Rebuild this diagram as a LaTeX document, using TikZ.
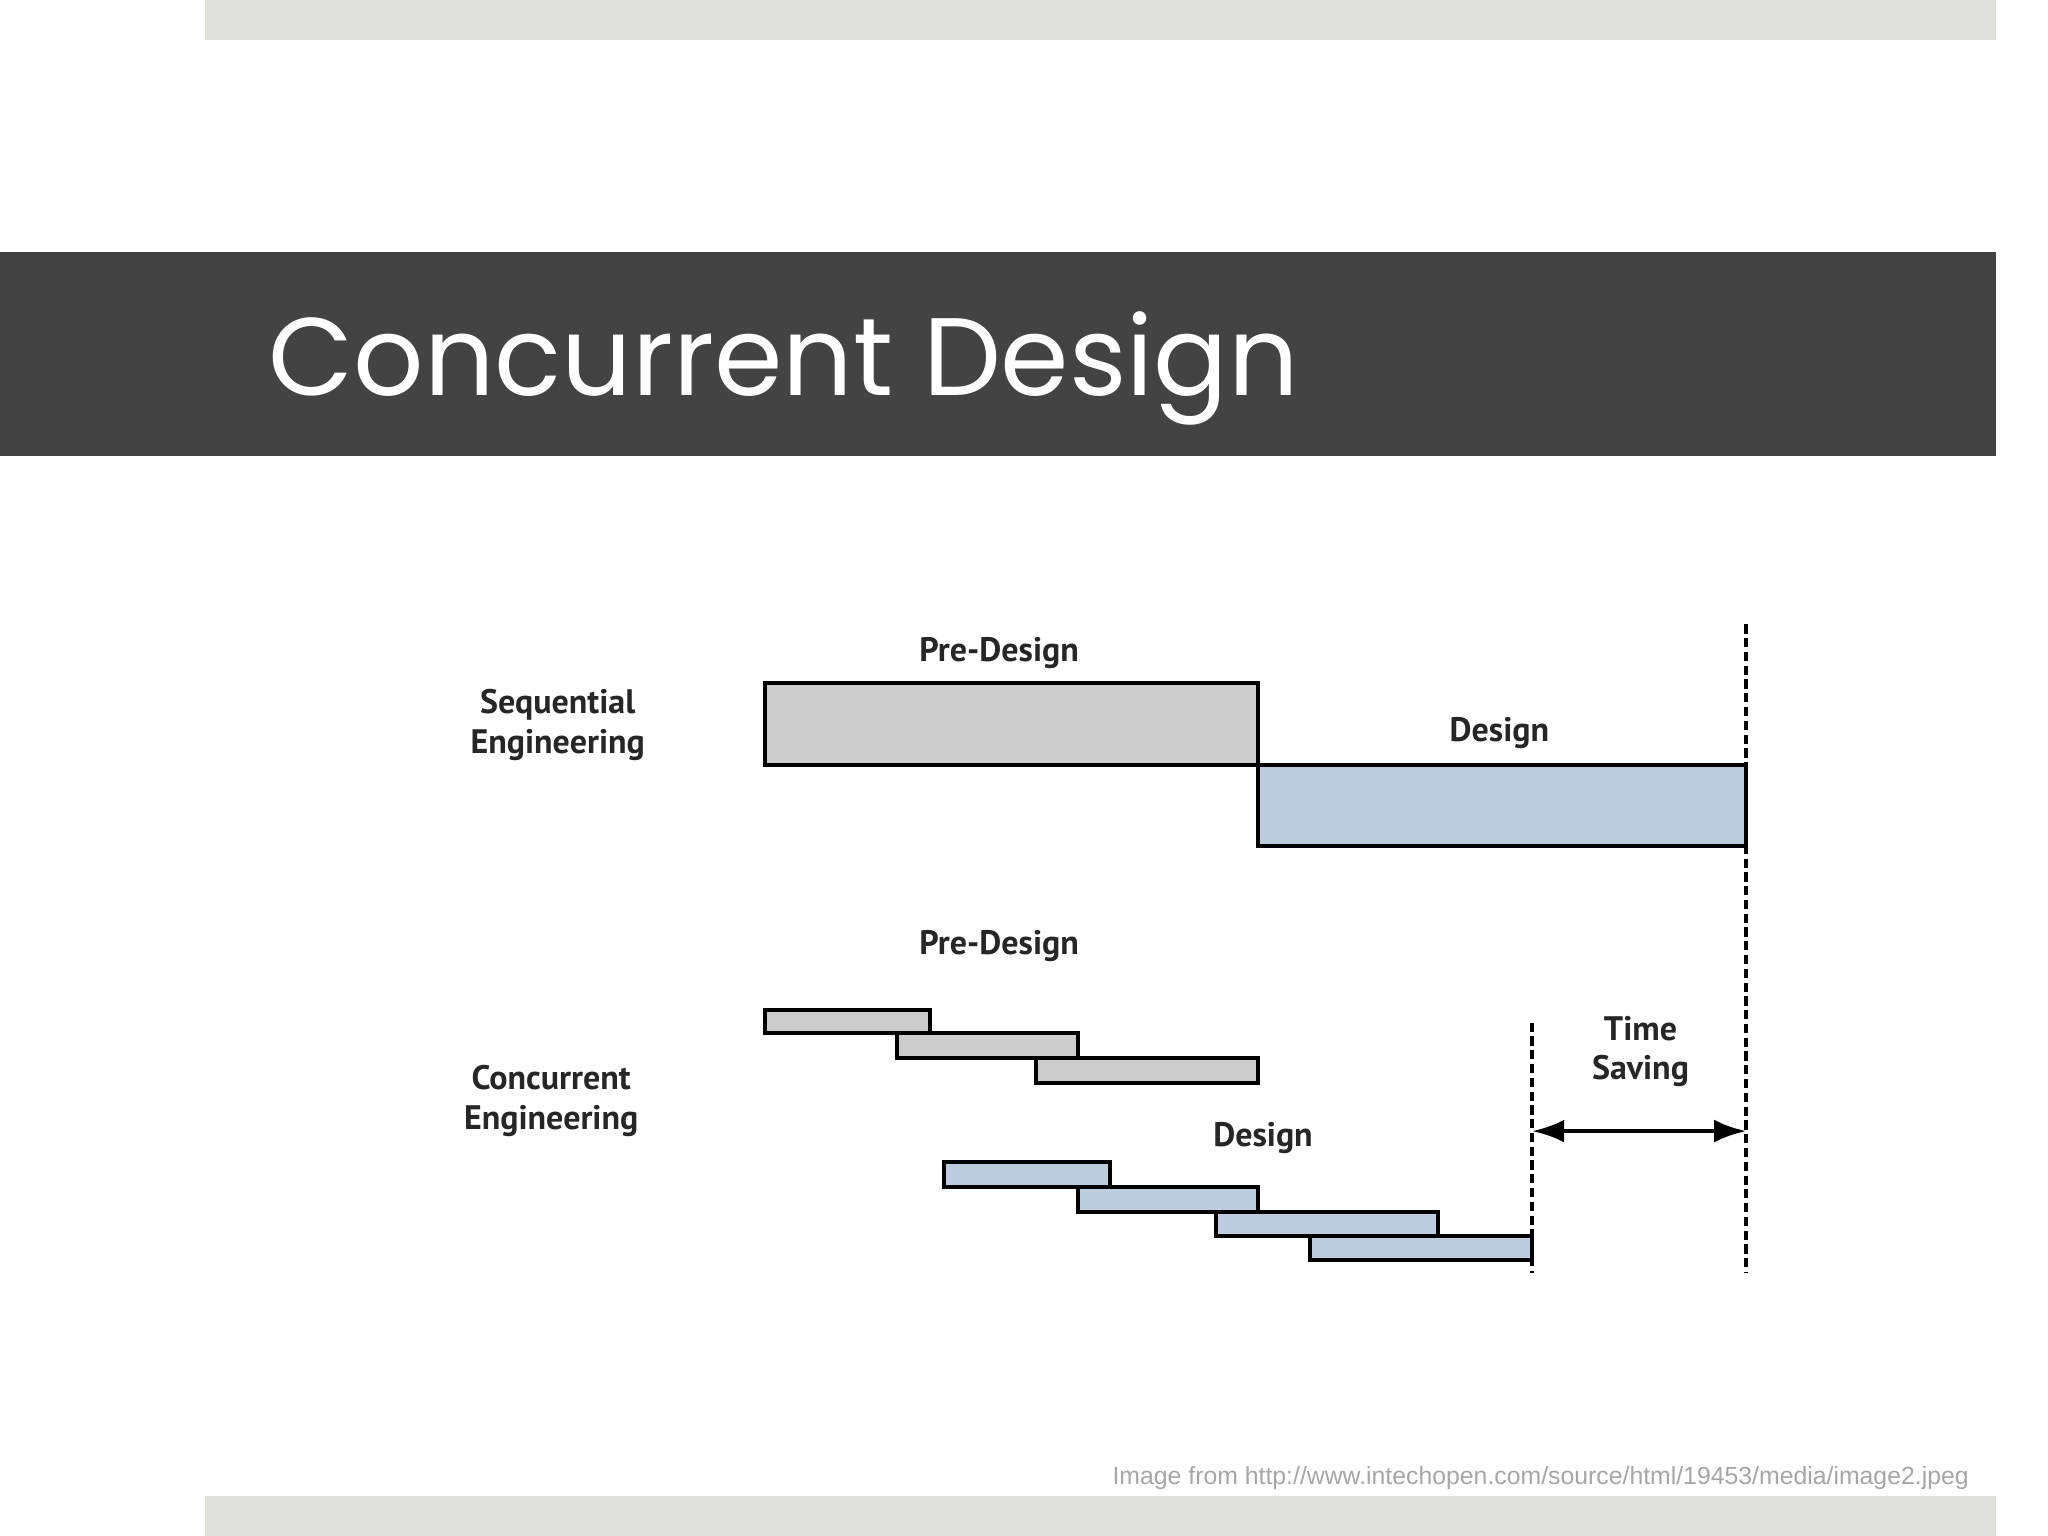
\documentclass[tikz,border=0pt]{standalone}
\usepackage{fontspec}
\setmainfont{PT Sans}
\newfontfamily\titlefont{Poppins}
\newfontfamily\footfont{Liberation Sans}
\usetikzlibrary{arrows.meta}
\definecolor{barlight}{HTML}{E0E0DC}
\definecolor{bandgray}{HTML}{434343}
\definecolor{predes}{HTML}{CCCCCC}
\definecolor{desblue}{HTML}{BCCDE0}
\begin{document}
\begin{tikzpicture}[x=0.01cm,y=-0.01cm,
  box/.style={draw=black,line width=0.85pt},
  pre/.style={box,fill=predes},
  des/.style={box,fill=desblue},
  lbl/.style={font=\fontsize{7.4}{8.6}\selectfont\bfseries,align=center,text=black!85},
  vline/.style={dashed,line width=0.85pt,dash pattern=on 2pt off 1pt}]
\useasboundingbox (0,0) rectangle (1568,1176);
\fill[barlight] (157,0) rectangle (1528,31);
\fill[barlight] (157,1145) rectangle (1528,1176);
\fill[bandgray] (0,193) rectangle (1528,349);
\node[anchor=base west,text=white,inner sep=0,font=\titlefont\fontsize{24}{28}\selectfont] (title) at (205,303) {Concurrent Design};
% sequential
\draw[pre] (586,523) rectangle (963,586);
\draw[des] (963,586) rectangle (1337,648);
% concurrent
\draw[pre] (586,773) rectangle (712,791);
\draw[pre] (687,791) rectangle (825,810);
\draw[pre] (793,810) rectangle (963,829);
\draw[des] (723,890) rectangle (850,909);
\draw[des] (825,909) rectangle (963,928);
\draw[des] (931,928) rectangle (1101,946);
\draw[des] (1003,946) rectangle (1173,965);
\coordinate (d1t) at (1337,478); \coordinate (d1b) at (1337,975);
\coordinate (d2t) at (1173,783); \coordinate (d2b) at (1173,975);
\draw[vline] (d1t) -- (d1b);
\draw[vline] (d2t) -- (d2b);
\coordinate (al) at (1173,866); \coordinate (ar) at (1337,866);
\draw[line width=1pt,{Latex[length=7pt,width=5pt]}-{Latex[length=7pt,width=5pt]}] (al) -- (ar);
\node[lbl] (l1) at (765,500) {Pre-Design};
\node[lbl] (l2) at (1148,561) {Design};
\node[lbl] (l3) at (427,555) {Sequential\\Engineering};
\node[lbl] (l4) at (765,724) {Pre-Design};
\node[lbl] (l5) at (422,843) {Concurrent\\Engineering};
\node[lbl] (l6) at (967,871) {Design};
\node[lbl] (l7) at (1256,805) {Time\\Saving};
\node[anchor=east,text=black!35,font=\footfont\fontsize{5.4}{6}\selectfont,inner sep=0] (foot) at (1508,1132) {Image from http://www.intechopen.com/source/html/19453/media/image2.jpeg};
\end{tikzpicture}
\end{document}
